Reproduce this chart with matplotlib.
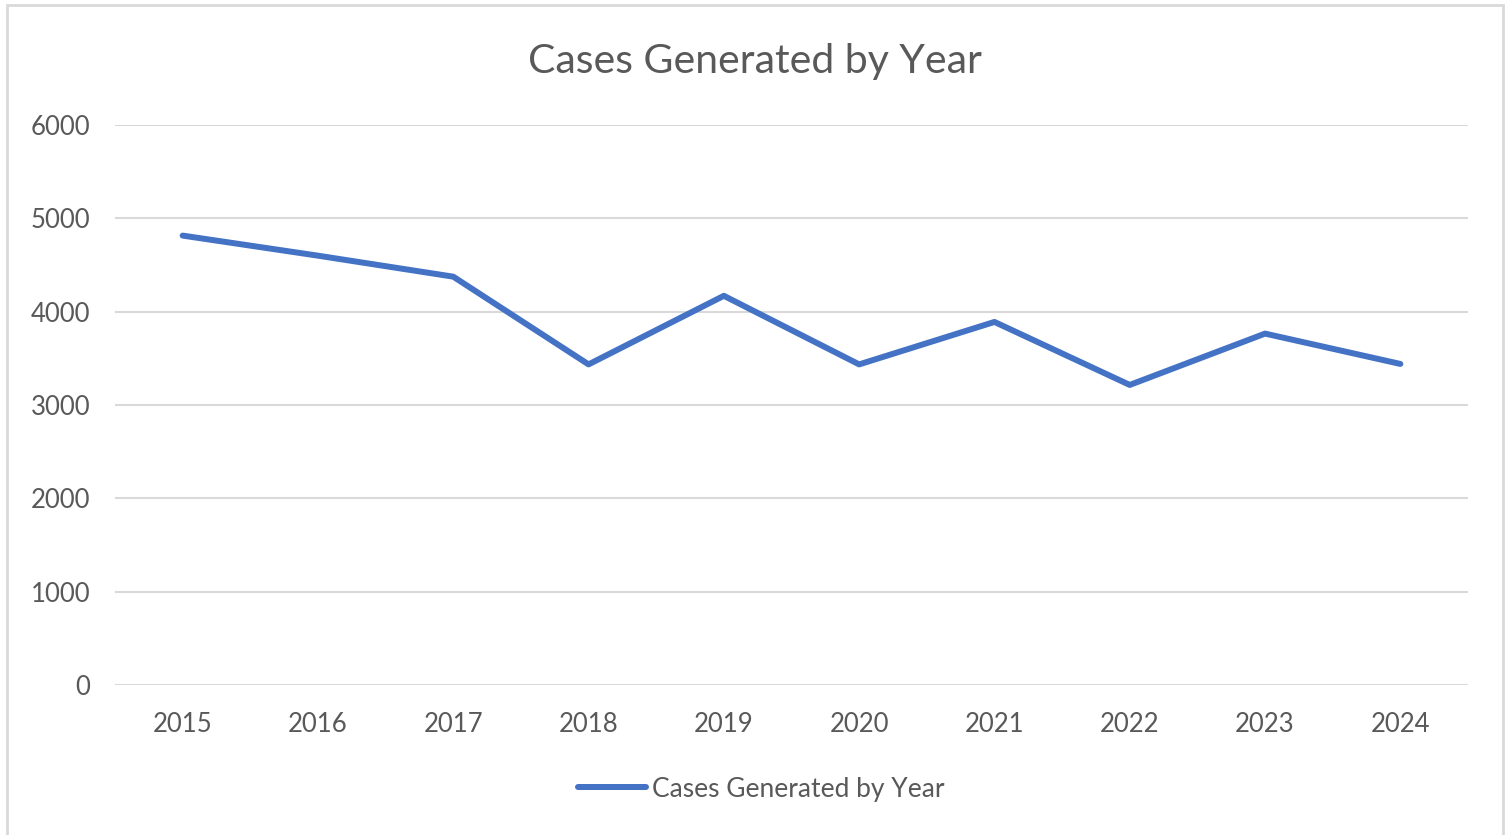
import matplotlib
matplotlib.use("Agg")
import matplotlib.pyplot as plt
from matplotlib.patches import Rectangle

years = ["2015", "2016", "2017", "2018", "2019", "2020", "2021", "2022", "2023", "2024"]
cases = [4815, 4600, 4375, 3435, 4170, 3435, 3890, 3215, 3765, 3440]
yticks = [0, 1000, 2000, 3000, 4000, 5000, 6000]
series_name = "Cases Generated by Year"
title = "Cases Generated by Year"

plt.rcParams['font.family'] = ['Lato', 'DejaVu Sans']
gray = "#595959"
blue = "#4472C4"
grid = "#D9D9D9"

fig = plt.figure(figsize=(15.1, 8.35), dpi=100)
ax = fig.add_axes([115/1510, 1-685/835, (1468-115)/1510, (685-125)/835])

x = list(range(len(years)))
ax.plot(x, cases, color=blue, linewidth=4.3, solid_capstyle='round',
        solid_joinstyle='round', label=series_name)

ax.set_xlim(-0.5, len(years) - 0.5)
ax.set_ylim(0, 6000)
ax.set_yticks(yticks)
ax.set_yticklabels([str(v) for v in yticks])
ax.set_xticks(x)
ax.set_xticklabels(years)
ax.yaxis.grid(True, color=grid, linewidth=1.5)
ax.set_axisbelow(True)
for s in ax.spines.values():
    s.set_visible(False)
ax.tick_params(axis='both', length=0, colors=gray, labelsize=18.5)
ax.tick_params(axis='y', pad=18)
ax.tick_params(axis='x', pad=19.5)

fig.text(755/1510, 1-61/835, title, ha='center', va='center', fontsize=29.5, color=gray)

leg = fig.legend(loc='center', bbox_to_anchor=(761/1510, 1-789/835), frameon=False,
                 fontsize=19, handlelength=2.6, handletextpad=0.2)
for t in leg.get_texts():
    t.set_color(gray)

fig.patches.append(Rectangle((7/1510, -0.01), (1503-7)/1510, 1-5/835 + 0.01,
                             transform=fig.transFigure, fill=False,
                             edgecolor=grid, linewidth=2))

fig.savefig("out.png", dpi=100, facecolor='white')
